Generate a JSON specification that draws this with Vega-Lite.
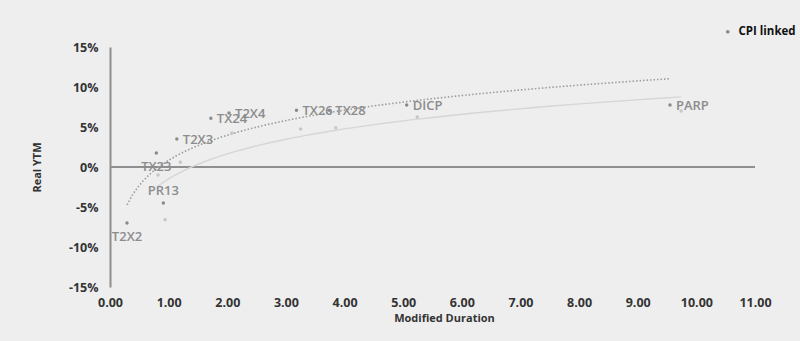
{
  "$schema": "https://vega.github.io/schema/vega-lite/v6.json",
  "width": 645,
  "height": 240,
  "autosize": "none",
  "padding": {"left": 110, "top": 47, "right": 45, "bottom": 54},
  "background": "#eeeeef",
  "config": {
    "view": {"stroke": null},
    "font": "Open Sans",
    "axis": {"labelOverlap": false, "labelFlush": false}
  },
  "data": {
    "values": [
      {"name": "T2X2", "dur": 0.29, "ytm": -7.0, "series": "CPI linked"},
      {"name": "PR13", "dur": 0.91, "ytm": -4.5, "series": "CPI linked"},
      {"name": "TX23", "dur": 0.79, "ytm": 1.75, "series": "CPI linked"},
      {"name": "T2X3", "dur": 1.14, "ytm": 3.5, "series": "CPI linked"},
      {"name": "TX24", "dur": 1.72, "ytm": 6.1, "series": "CPI linked"},
      {"name": "T2X4", "dur": 2.03, "ytm": 6.75, "series": "CPI linked"},
      {"name": "TX26", "dur": 3.18, "ytm": 7.1, "series": "CPI linked"},
      {"name": "TX28", "dur": 3.74, "ytm": 7.1, "series": "CPI linked"},
      {"name": "DICP", "dur": 5.06, "ytm": 7.75, "series": "CPI linked"},
      {"name": "PARP", "dur": 9.55, "ytm": 7.75, "series": "CPI linked"},
      {"name": "", "dur": 0.94, "ytm": -6.6, "series": "Other"},
      {"name": "", "dur": 0.82, "ytm": -1.0, "series": "Other"},
      {"name": "", "dur": 1.2, "ytm": 0.6, "series": "Other"},
      {"name": "", "dur": 2.08, "ytm": 4.25, "series": "Other"},
      {"name": "", "dur": 3.25, "ytm": 4.75, "series": "Other"},
      {"name": "", "dur": 3.85, "ytm": 4.9, "series": "Other"},
      {"name": "", "dur": 5.24, "ytm": 6.25, "series": "Other"},
      {"name": "", "dur": 9.74, "ytm": 7.0, "series": "Other"}
    ]
  },
  "encoding": {
    "x": {
      "field": "dur", "type": "quantitative",
      "scale": {"domain": [0, 11], "nice": false},
      "axis": {
        "values": [0, 1, 2, 3, 4, 5, 6, 7, 8, 9, 10, 11],
        "format": ".2f",
        "domain": false, "ticks": false, "grid": false,
        "labelFlush": false, "labelOverlap": false,
        "labelFont": "Open Sans", "labelFontSize": 12.5, "labelFontWeight": "bold", "labelColor": "#333333",
        "labelPadding": 9,
        "title": "Modified Duration",
        "titleFont": "Open Sans", "titleFontSize": 11, "titleFontWeight": "bold", "titleColor": "#333333",
        "titlePadding": 4, "titleX": 334
      }
    },
    "y": {
      "field": "ytm", "type": "quantitative",
      "scale": {"domain": [-15, 15], "nice": false},
      "axis": {
        "values": [-15, -10, -5, 0, 5, 10, 15],
        "labelExpr": "datum.value + '%'",
        "labelFlush": false, "labelOverlap": false,
        "domain": true, "domainColor": "#8f8f8f", "domainWidth": 2,
        "ticks": false, "grid": false,
        "labelFont": "Open Sans", "labelFontSize": 12.5, "labelFontWeight": "bold", "labelColor": "#333333",
        "labelPadding": 12,
        "title": "Real YTM",
        "titleFont": "Open Sans", "titleFontSize": 11, "titleFontWeight": "bold", "titleColor": "#333333",
        "titleX": -73, "titleY": 120, "titleBaseline": "middle", "titleAngle": -90
      }
    }
  },
  "layer": [
    {
      "mark": {"type": "rule", "color": "#8f8f8f", "strokeWidth": 2},
      "encoding": {
        "y": {"datum": 0, "type": "quantitative"},
        "x": {"datum": 0, "type": "quantitative"},
        "x2": {"datum": 11}
      }
    },
    {
      "transform": [
        {"filter": "datum.series == 'CPI linked'"},
        {"regression": "ytm", "on": "dur", "method": "log"}
      ],
      "mark": {"type": "line", "color": "#9c9c9c", "strokeWidth": 1.6, "strokeDash": [1.5, 2]},
      "encoding": {}
    },
    {
      "transform": [
        {"filter": "datum.series == 'Other'"},
        {"regression": "ytm", "on": "dur", "method": "log"}
      ],
      "mark": {"type": "line", "color": "#d6d6d6", "strokeWidth": 1.4},
      "encoding": {}
    },
    {
      "mark": {"type": "circle", "opacity": 1, "size": 12},
      "encoding": {
        "color": {
          "field": "series", "type": "nominal",
          "scale": {"domain": ["CPI linked", "Other"], "range": ["#8a8a8a", "#c6c6c6"]},
          "legend": {
            "values": ["CPI linked"], "title": null, "orient": "none",
            "legendX": 612, "legendY": -21,
            "symbolType": "circle", "symbolSize": 14, "symbolFillColor": "#9a9a9a", "symbolStrokeWidth": 0,
            "labelFont": "Open Sans", "labelFontSize": 11.5, "labelFontWeight": "bold", "labelColor": "#111111",
            "labelOffset": 5, "padding": 0
          }
        }
      }
    },
    {
      "transform": [{"filter": {"field": "name", "oneOf": ["T2X3", "TX24", "T2X4", "TX26", "TX28", "DICP", "PARP"]}}],
      "mark": {"type": "text", "align": "left", "baseline": "middle", "dx": 6, "dy": 1, "font": "Open Sans", "fontSize": 13, "fontWeight": 600, "color": "#8c8c8c"},
      "encoding": {"text": {"field": "name"}}
    },
    {
      "transform": [{"filter": {"field": "name", "oneOf": ["TX23", "T2X2"]}}],
      "mark": {"type": "text", "align": "center", "baseline": "middle", "dy": 14, "font": "Open Sans", "fontSize": 13, "fontWeight": 600, "color": "#8c8c8c"},
      "encoding": {"text": {"field": "name"}}
    },
    {
      "transform": [{"filter": {"field": "name", "oneOf": ["PR13"]}}],
      "mark": {"type": "text", "align": "center", "baseline": "middle", "dy": -12, "font": "Open Sans", "fontSize": 13, "fontWeight": 600, "color": "#8c8c8c"},
      "encoding": {"text": {"field": "name"}}
    }
  ]
}
